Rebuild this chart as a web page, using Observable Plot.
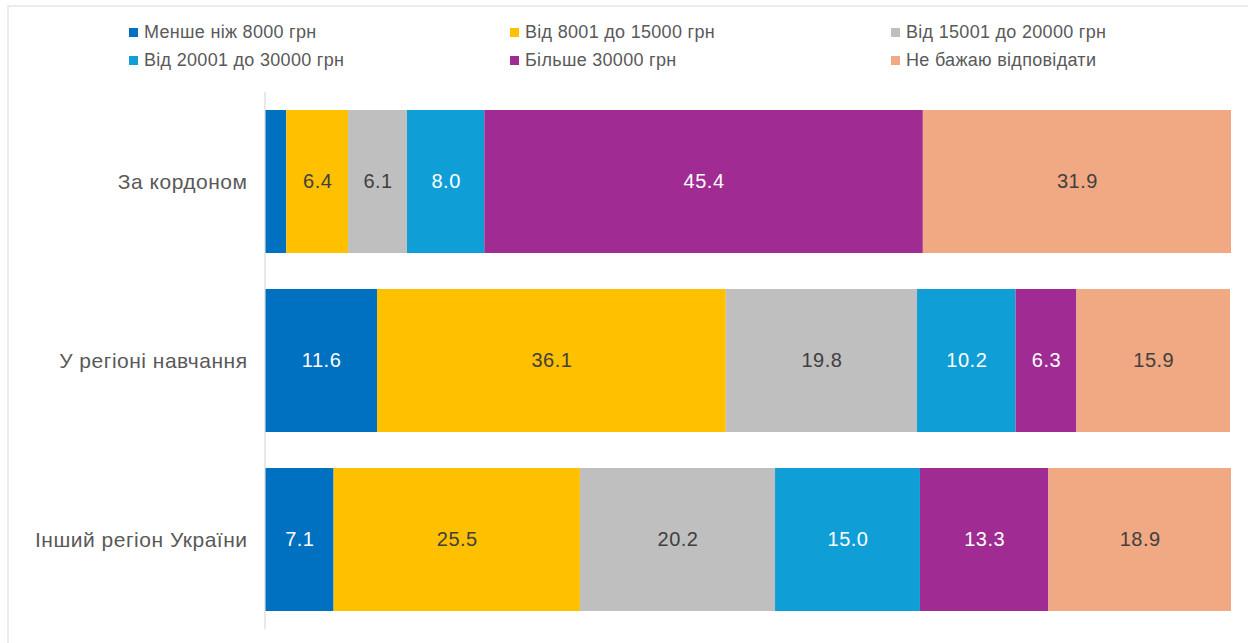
<!DOCTYPE html>
<html>
<head>
<meta charset="utf-8">
<script src="https://cdn.jsdelivr.net/npm/d3@7"></script>
<script src="https://cdn.jsdelivr.net/npm/@observablehq/plot@0.6"></script>
<style>
  body { margin: 0; background: #fff; font-family: "Liberation Sans", Arial, sans-serif; }
  #wrap { position: relative; width: 1248px; height: 643px; overflow: hidden; }
  #frame { position: absolute; left: 7px; top: 5px; right: -2px; bottom: -2px; border-left: 2px solid #ececec; border-top: 2px solid #ececec; pointer-events: none; }
  #legend { position: absolute; left: 0; top: 0; width: 1248px; height: 85px; }
  .item { position: absolute; display: flex; align-items: center; font-size: 18px; letter-spacing: 0.3px; color: #595959; white-space: nowrap; }
  .sw { width: 9px; height: 9px; margin-right: 6px; }
  #chart { position: absolute; left: 0; top: 85px; }
  #chart text { font-family: "Liberation Sans", Arial, sans-serif; }
  #chart .ylab text { letter-spacing: 0.5px; }
  #chart .vlab text { letter-spacing: 0.5px; }
</style>
</head>
<body>
<div id="wrap">
  <div id="legend"></div>
  <div id="chart"></div>
  <div id="frame"></div>
</div>
<script>
const categories = ["За кордоном", "У регіоні навчання", "Інший регіон України"];
const series = ["Менше ніж 8000 грн", "Від 8001 до 15000 грн", "Від 15001 до 20000 грн", "Від 20001 до 30000 грн", "Більше 30000 грн", "Не бажаю відповідати"];
const colors = ["#0070C0", "#FFC000", "#BFBFBF", "#0F9ED5", "#A02B93", "#F1A983"];
const labelColors = ["#ffffff", "#404040", "#404040", "#ffffff", "#ffffff", "#404040"];
const valuesAbroad = [2.2, 6.4, 6.1, 8.0, 45.4, 31.9];
const valuesStudyRegion = [11.6, 36.1, 19.8, 10.2, 6.3, 15.9];
const valuesOtherRegion = [7.1, 25.5, 20.2, 15.0, 13.3, 18.9];
const showLabel = [
  [false, true, true, true, true, true],
  [true, true, true, true, true, true],
  [true, true, true, true, true, true]
];

const rows = [valuesAbroad, valuesStudyRegion, valuesOtherRegion];
const data = [];
rows.forEach((vals, ci) => vals.forEach((v, si) => data.push({
  cat: categories[ci], series: series[si], si, value: v, show: showLabel[ci][si]
})));

// legend
const legend = document.getElementById("legend");
const colX = [129, 510, 891];
const rowY = [22, 50];
series.forEach((s, i) => {
  const d = document.createElement("div");
  d.className = "item";
  d.style.left = colX[i % 3] + "px";
  d.style.top = rowY[Math.floor(i / 3)] + "px";
  d.innerHTML = `<span class="sw" style="background:${colors[i]}"></span><span>${s}</span>`;
  legend.appendChild(d);
});

const plot = Plot.plot({
  width: 1248,
  height: 558,
  marginLeft: 265,
  marginRight: 17,
  marginTop: 7,
  marginBottom: 14,
  style: { fontSize: "20px", fontFamily: "Liberation Sans, Arial, sans-serif", background: "transparent" },
  x: { domain: [0, 100], axis: null },
  y: { domain: categories, paddingInner: 0.2, paddingOuter: 0.1, label: null },
  color: { domain: series, range: colors },
  marks: [
    Plot.barX(data, Plot.stackX({ x: "value", y: "cat", z: "series", fill: "series", order: null })),
    Plot.text(data, Plot.stackX({
      x: "value", y: "cat", z: "series", order: null,
      text: d => d.show ? d.value.toFixed(1) : "",
      fill: d => labelColors[d.si],
      fontSize: 20,
      className: "vlab"
    })),
    Plot.ruleX([0], { stroke: "#d9d9d9", strokeWidth: 1.2, dx: -0.5 }),
    Plot.axisY({ tickSize: 0, tickPadding: 18, fill: "#595959", fontSize: 21, className: "ylab" })
  ]
});
document.getElementById("chart").appendChild(plot);
</script>
</body>
</html>
